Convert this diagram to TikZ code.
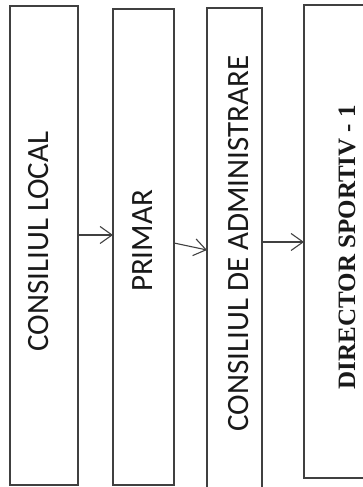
\documentclass[tikz,border=0pt]{standalone}
\usepackage{fontspec}
\newfontfamily\calibri{Carlito}
\newfontfamily\timesfont{Liberation Serif}
\usetikzlibrary{arrows.meta}

\begin{document}
\begin{tikzpicture}[x=1pt, y=1pt,
        cutie/.style={draw=black!75, line width=1.3pt, inner sep=0pt, outer sep=0pt},
        eticheta/.style={rotate=90, inner sep=0pt, font=\calibri\fontsize{31}{34}\selectfont, text=black!90},
        sageata/.style={draw=black!75, line width=1.1pt, -{Straight Barb[length=12pt, width=17pt, line width=1.1pt]}}]
                \useasboundingbox (0,0) rectangle (363,487);
                % cutiile
                \node[cutie, minimum width=68, minimum height=479] (local) at (44,241.5) {};
                \node[cutie, minimum width=61, minimum height=476] (primar) at (143.5,240) {};
                \node[cutie, minimum width=55, minimum height=482] (admin) at (234.5,238) {};
                \node[cutie, minimum width=66, minimum height=473] (director) at (337,245.5) {};
                % textele
                \node[eticheta] (tlocal) at (38.5,245.5) {CONSILIUL LOCAL};
                \node[eticheta] (tprimar) at (142.5,246) {PRIMAR};
                \node[eticheta] (tadmin) at (239,243.5) {CONSILIUL DE ADMINISTRARE};
                \node[eticheta, font=\timesfont\bfseries\fontsize{25}{28}\selectfont] (tdirector) at (347,240) {DIRECTOR SPORTIV - 1};
                % sagetile
                \draw[sageata] (local.east |- 0,252) -- (primar.west |- 0,252);
                \draw[sageata] (primar.east |- 0,244) -- (admin.west |- 0,237);
                \draw[sageata] (admin.east |- 0,245) -- (director.west |- 0,245);
            \end{tikzpicture}
\end{document}
